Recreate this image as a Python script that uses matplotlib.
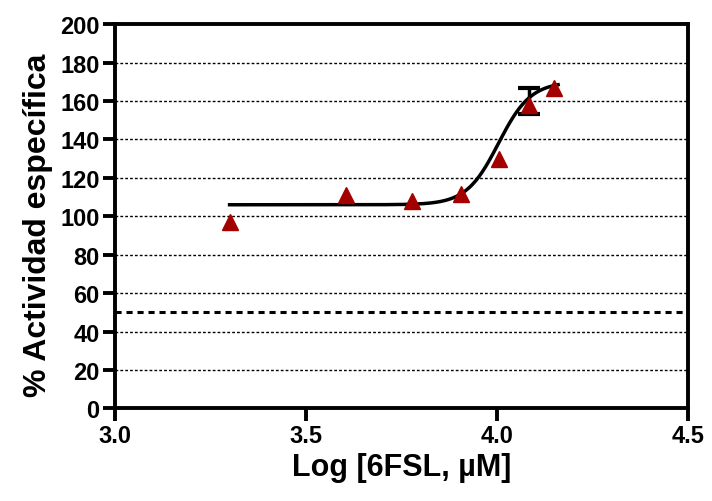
import numpy as np
import matplotlib
matplotlib.use("Agg")
import matplotlib.pyplot as plt

# Data
log_conc = [3.30, 3.605, 3.778, 3.905, 4.005, 4.083, 4.150]
activity = [97.2, 111.2, 108.2, 111.8, 129.8, 158.0, 166.6]
err_x = [4.083]
err_y = [160.0]
err_val = [6.8]

# Four-parameter logistic fit parameters
fit_bottom = 106.0
fit_top = 170.0
fit_logec50 = 4.004
fit_hill = 10.3
fit_range = [3.30, 4.16]

ref_level = 50
yticks = [0, 20, 40, 60, 80, 100, 120, 140, 160, 180, 200]
xticks = [3.0, 3.5, 4.0, 4.5]

plt.rcParams['font.family'] = ['Liberation Sans', 'DejaVu Sans']
plt.rcParams['font.weight'] = 'bold'

fig = plt.figure(figsize=(7.12, 5.02), dpi=100)
ax = fig.add_axes([0.1615, 0.1843, 0.8048, 0.7657])

for g in yticks[1:-1]:
    ax.axhline(g, color='black', lw=1.0, ls=(0, (2, 1.5)), zorder=1)

ax.axhline(ref_level, color='black', lw=2.2, ls=(0, (2, 1.6)), zorder=2)

xf = np.linspace(fit_range[0], fit_range[1], 300)
yf = fit_bottom + (fit_top - fit_bottom) / (1 + 10 ** ((fit_logec50 - xf) * fit_hill))
ax.plot(xf, yf, color='black', lw=2.5, zorder=3)

ax.errorbar(err_x, err_y, yerr=err_val, fmt='none', ecolor='black',
            elinewidth=2.5, capsize=8, capthick=3, zorder=4)
ax.plot(log_conc, activity, ls='none', marker='^', markersize=11,
        color='#a30000', markeredgecolor='#a30000', zorder=5)

ax.set_xlim(3.0, 4.5)
ax.set_ylim(0, 200)
ax.set_xticks(xticks)
ax.set_xticklabels(['3.0', '3.5', '4.0', '4.5'])
ax.set_yticks(yticks)

for s in ax.spines.values():
    s.set_linewidth(2.8)
ax.tick_params(axis='both', direction='out', width=2.8, length=9,
               labelsize=17, pad=2)
ax.tick_params(top=False, right=False)
for lab in ax.get_xticklabels() + ax.get_yticklabels():
    lab.set_fontweight('bold')

ax.set_xlabel('Log [6FSL, µM]', fontsize=22, fontweight='bold', labelpad=4)
ax.set_ylabel('% Actividad específica', fontsize=23, fontweight='bold')
ax.yaxis.set_label_coords(-0.108, 0.48)

fig.savefig('out.png', dpi=100)
